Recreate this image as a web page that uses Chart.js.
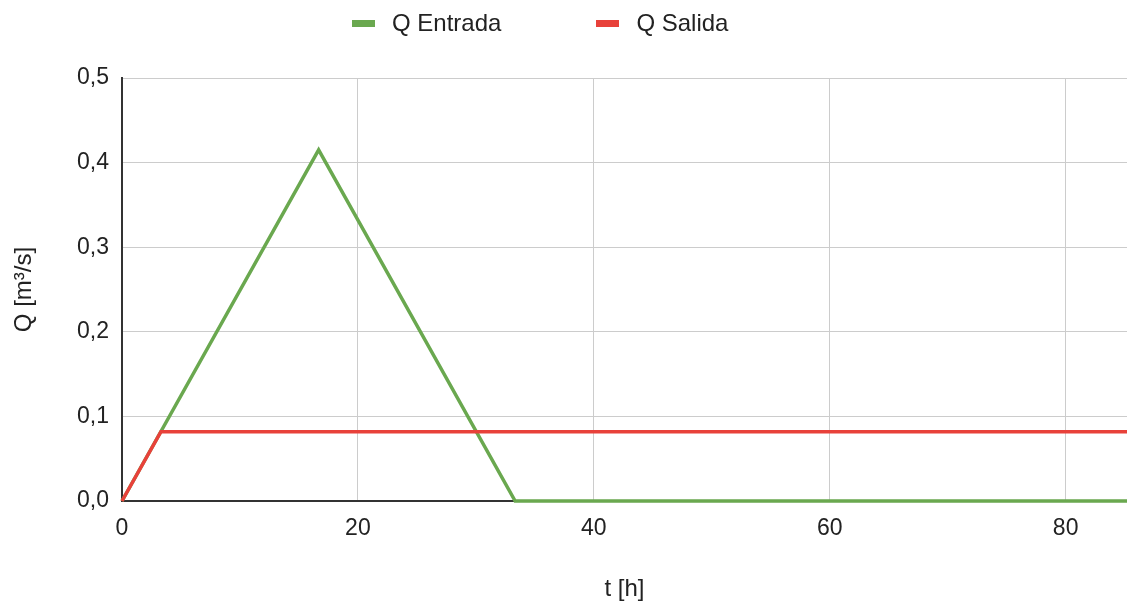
<!DOCTYPE html>
<html>
<head>
<meta charset="utf-8">
<script src="https://cdn.jsdelivr.net/npm/chart.js@4/dist/chart.umd.min.js"></script>
<style>
  html, body { margin: 0; padding: 0; background: #fff; }
  #wrap { position: relative; width: 1127px; height: 606px; }
  #legend {
    position: absolute; top: 0; left: 352px; height: 46px;
    display: flex; align-items: center;
    font-family: "Liberation Sans", Arial, sans-serif; font-size: 24px; color: #222;
  }
  .item { display: flex; align-items: center; }
  .item + .item { margin-left: 95px; }
  .box { width: 23px; height: 7px; margin-right: 17px; }
</style>
</head>
<body>
<div id="wrap">
  <canvas id="chart" width="1127" height="606"></canvas>
  <div id="legend"></div>
</div>
<script>
// hydrograph values
const tEntrada = [0, 16.67, 33.33, 85.2];
const qEntrada = [0, 0.415, 0, 0];
const tSalida = [0, 3.3, 85.2];
const qSalida = [0, 0.082, 0.082];

const seriesNames = ['Q Entrada', 'Q Salida'];
const seriesColors = ['#6aa84f', '#e8413a'];

const yTicks = [0, 0.1, 0.2, 0.3, 0.4, 0.5];
const xTicks = [0, 20, 40, 60, 80];

const FONT = '"Liberation Sans", Arial, sans-serif';

function toPoints(xs, ys) {
  return xs.map((x, i) => ({ x, y: ys[i] }));
}

// html legend, the canvas one can't space the items this wide
const legend = document.getElementById('legend');
seriesNames.forEach((name, i) => {
  const it = document.createElement('div');
  it.className = 'item';
  it.innerHTML = `<span class="box" style="background:${seriesColors[i]}"></span><span>${name}</span>`;
  legend.appendChild(it);
});

const ctx = document.getElementById('chart').getContext('2d');
new Chart(ctx, {
  type: 'line',
  data: {
    datasets: [
      {
        label: seriesNames[0],
        data: toPoints(tEntrada, qEntrada),
        borderColor: seriesColors[0],
        borderWidth: 3.5,
        pointRadius: 0,
        tension: 0,
        order: 1,
        clip: false
      },
      {
        label: seriesNames[1],
        data: toPoints(tSalida, qSalida),
        borderColor: seriesColors[1],
        borderWidth: 3.5,
        pointRadius: 0,
        tension: 0,
        order: 0,
        clip: false
      }
    ]
  },
  options: {
    responsive: false,
    animation: false,
    layout: { padding: { top: 78, left: 0, right: 0, bottom: 0 } },
    plugins: { legend: { display: false }, tooltip: { enabled: false } },
    scales: {
      x: {
        type: 'linear',
        min: 0,
        max: 85.2,
        afterBuildTicks: s => { s.ticks = xTicks.map(v => ({ value: v })); },
        afterFit: s => { s.height = 105; },
        grid: { color: '#cccccc', lineWidth: 1, drawTicks: false },
        border: { color: '#333333', width: 2 },
        ticks: {
          padding: 14,
          color: '#222',
          font: { family: FONT, size: 23 },
          callback: v => String(v)
        },
        title: {
          display: true,
          text: 't [h]',
          color: '#222',
          font: { family: FONT, size: 24 },
          padding: { top: 4, bottom: 2 }
        }
      },
      y: {
        min: 0,
        max: 0.5,
        afterBuildTicks: s => { s.ticks = yTicks.map(v => ({ value: v })); },
        afterFit: s => { s.width = 122; },
        grid: { color: '#cccccc', lineWidth: 1, drawTicks: false },
        border: { color: '#333333', width: 2 },
        ticks: {
          padding: 13,
          color: '#222',
          font: { family: FONT, size: 23 },
          callback: v => v.toFixed(1).replace('.', ',')
        },
        title: {
          display: true,
          text: 'Q [m³/s]',
          color: '#222',
          font: { family: FONT, size: 24 },
          padding: { top: 10, bottom: 4 }
        }
      }
    }
  }
});
</script>
</body>
</html>
